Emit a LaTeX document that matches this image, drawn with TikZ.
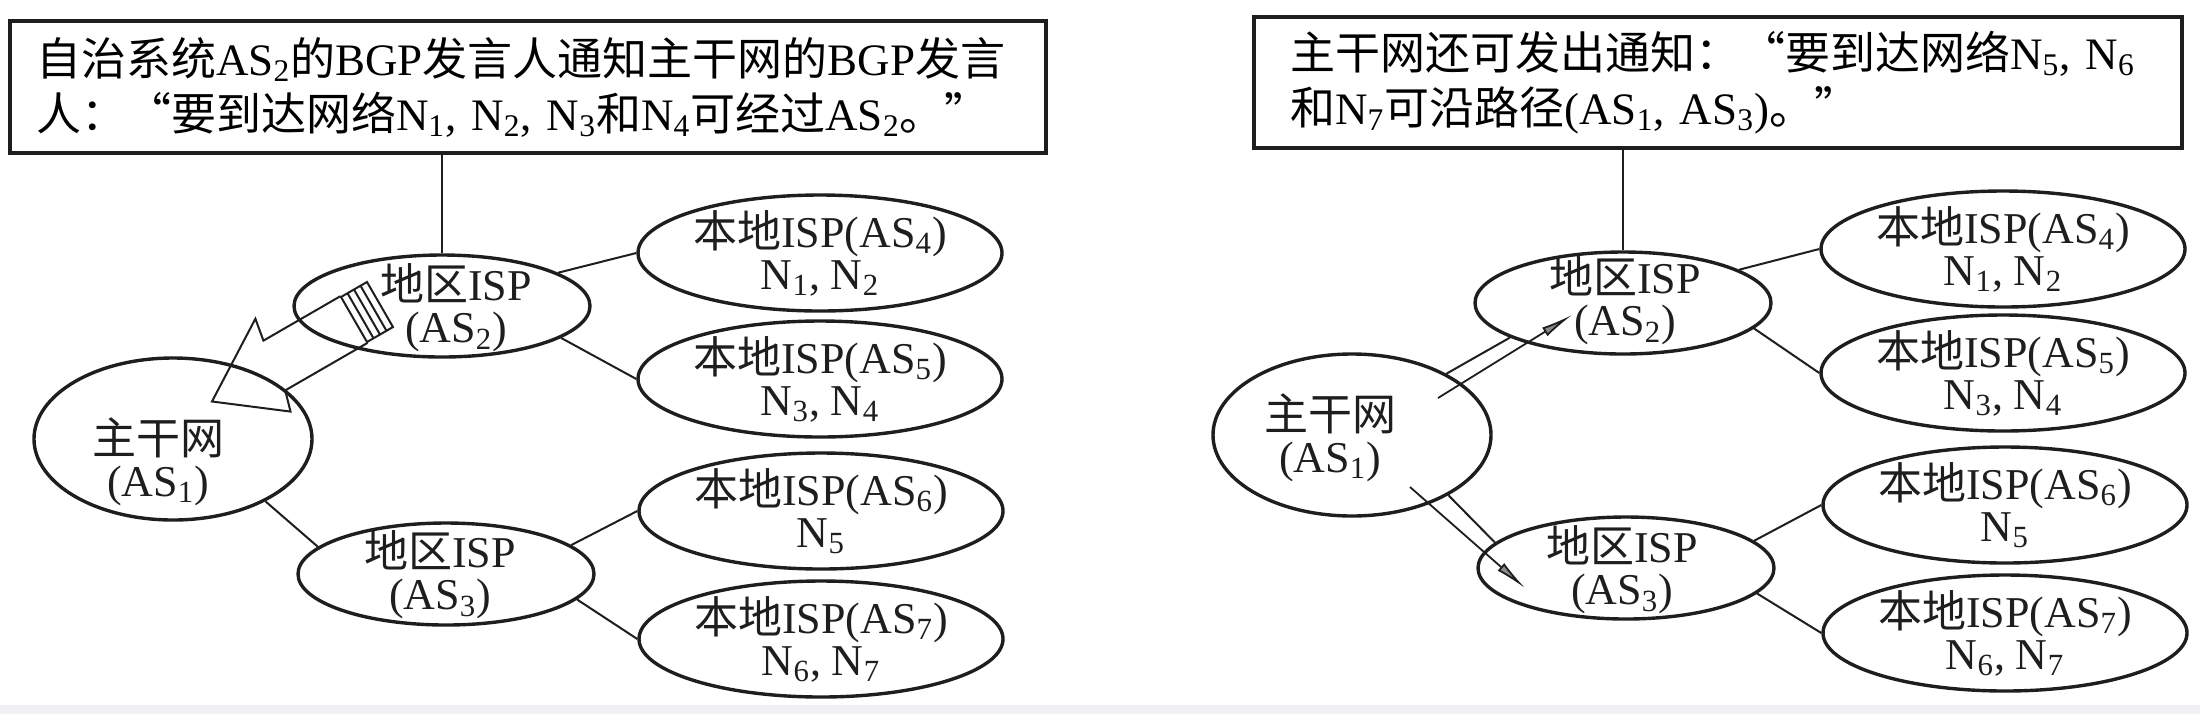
\documentclass[tikz,border=0pt]{standalone}
\usepackage{fontspec}
\setmainfont{Liberation Serif}
\newfontfamily\cjk{Noto Sans CJK SC}
\usetikzlibrary{shapes.geometric,arrows.meta}
\newcommand{\zh}[1]{{\cjk #1}}
\newcommand{\subn}[1]{\textsubscript{#1}}
\definecolor{InkDark}{HTML}{1E1E1E}
\definecolor{ArrowGray}{HTML}{8A8A8A}
\definecolor{PageEdge}{HTML}{F1F1F3}

\begin{document}
\begin{tikzpicture}[
	x=0.5pt, y=-0.5pt, % one unit = one pixel of the picture, y runs down
	% Style for the two caption boxes
	note/.style={
		rectangle,
		draw=InkDark,
		line width=1.8pt,
		align=left,
		inner ysep=0pt,
		font=\fontsize{22.5}{27.5}\selectfont
	},
	% Styles for the three kinds of autonomous systems
	core/.style={
		ellipse,
		draw=InkDark,
		line width=1.7pt,
		inner sep=0pt,
		minimum width=139pt,
		minimum height=81pt
	},
	reg/.style={
		ellipse,
		draw=InkDark,
		line width=1.7pt,
		inner sep=0pt,
		minimum width=148pt,
		minimum height=51pt
	},
	lan/.style={
		ellipse,
		draw=InkDark,
		line width=1.7pt,
		inner sep=0pt,
		minimum width=182pt,
		minimum height=58pt
	},
	% Text inside the ellipses
	txt/.style={
		align=center,
		inner sep=0pt,
		text=InkDark,
		font=\fontsize{22}{21}\selectfont
	},
	% Plain links between the systems
	link/.style={
		draw=InkDark,
		line width=1pt
	},
	% Outline of the big update arrow
	fat/.style={
		draw=InkDark,
		line width=1pt,
		line join=miter
	},
	% Thin advertisement arrows
	adv/.style={
		draw=InkDark,
		line width=0.9pt,
		-{Latex[length=16pt,width=5pt,fill=ArrowGray]}
	}
	]
	
	\useasboundingbox (0,0) rectangle (2200,714);
	\fill[PageEdge] (0,705) rectangle (2200,714);
	
	% 1. Left half: AS2 tells the backbone
	\node[note, text width=492pt, inner xsep=13pt, minimum height=66pt] (lnote) at (528,87)
		{\zh{自治系统}AS\subn{2}\zh{的}BGP\zh{发言人通知主干网的}BGP\zh{发言}\\
		 \zh{人：“要到达网络}N\subn{1},~N\subn{2},~N\subn{3}\zh{和}N\subn{4}\zh{可经过}AS\subn{2}\zh{。”}};
	
	\node[core] (lAS1) at (173,439) {};
	\node[txt] (lAS1t) at (158,462) {\zh{主干网}\\(AS\subn{1})};
	\node[reg] (lAS2) at (442,306) {};
	\node[txt] (lAS2t) at (456,308) {\zh{地区}ISP\\(AS\subn{2})};
	\node[reg] (lAS3) at (446,574) {};
	\node[txt] (lAS3t) at (440,575) {\zh{地区}ISP\\(AS\subn{3})};
	\node[lan] (lAS4) at (820,253) {};
	\node[txt] (lAS4t) at (lAS4) {\zh{本地}ISP(AS\subn{4})\\N\subn{1},~N\subn{2}};
	\node[lan] (lAS5) at (820,379) {};
	\node[txt] (lAS5t) at (lAS5) {\zh{本地}ISP(AS\subn{5})\\N\subn{3},~N\subn{4}};
	\node[lan] (lAS6) at (821,511) {};
	\node[txt] (lAS6t) at (lAS6) {\zh{本地}ISP(AS\subn{6})\\N\subn{5}};
	\node[lan] (lAS7) at (821,639) {};
	\node[txt] (lAS7t) at (lAS7) {\zh{本地}ISP(AS\subn{7})\\N\subn{6},~N\subn{7}};
	
	\draw[link] (lnote.south -| lAS2.north) -- (lAS2.north);
	\draw[link] (lAS2.16) -- (lAS4.west);
	\draw[link] (lAS2.-15) -- (lAS5.west);
	\draw[link] (lAS3.13) -- (lAS6.west);
	\draw[link] (lAS3.-11) -- (lAS7.west);
	\draw[link] (lAS1.-34) -- (lAS3.168);
	
	% the update leaves AS2 as a striped packet with a hollow head
	\coordinate (pkt) at (367,312);
	\begin{scope}[shift={(pkt)}, rotate=210]
		\draw[fat] (15,-27) -- (110,-27) -- (116,-48) -- (179,0) -- (100,50) -- (104,27) -- (15,27);
		\draw[fat] (-15,-26) rectangle (15,26);
		\foreach \s in {-7.5,0,7.5}
			\draw[fat] (\s,-26) -- (\s,26);
	\end{scope}
	
	% 2. Right half: the backbone passes the path on
	\node[note, text width=428pt, inner xsep=18pt, minimum height=65.5pt] (rnote) at (1718,82.5)
		{\zh{主干网还可发出通知：“要到达网络}N\subn{5},~N\subn{6}\\
		 \zh{和}N\subn{7}\zh{可沿路径}(AS\subn{1},~AS\subn{3})\zh{。”}};
	
	\node[core] (rAS1) at (1352,435) {};
	\node[txt] (rAS1t) at (1330,438) {\zh{主干网}\\(AS\subn{1})};
	\node[reg] (rAS2) at (1623,303) {};
	\node[txt] (rAS2t) at (1625,301) {\zh{地区}ISP\\(AS\subn{2})};
	\node[reg] (rAS3) at (1626,568) {};
	\node[txt] (rAS3t) at (1622,570) {\zh{地区}ISP\\(AS\subn{3})};
	\node[lan] (rAS4) at (2003,249) {};
	\node[txt] (rAS4t) at (rAS4) {\zh{本地}ISP(AS\subn{4})\\N\subn{1},~N\subn{2}};
	\node[lan] (rAS5) at (2003,373) {};
	\node[txt] (rAS5t) at (rAS5) {\zh{本地}ISP(AS\subn{5})\\N\subn{3},~N\subn{4}};
	\node[lan] (rAS6) at (2005,505) {};
	\node[txt] (rAS6t) at (rAS6) {\zh{本地}ISP(AS\subn{6})\\N\subn{5}};
	\node[lan] (rAS7) at (2005,633) {};
	\node[txt] (rAS7t) at (rAS7) {\zh{本地}ISP(AS\subn{7})\\N\subn{6},~N\subn{7}};
	
	\draw[link] (rnote.south -| rAS2.north) -- (rAS2.north);
	\draw[link] (rAS2.16) -- (rAS4.west);
	\draw[link] (rAS2.-11) -- (rAS5.west);
	\draw[link] (rAS3.12) -- (rAS6.west);
	\draw[link] (rAS3.-11) -- (rAS7.west);
	\draw[link] (rAS1.33) -- (rAS2.197);
	\draw[link] (rAS1.-32) -- (rAS3.169);
	
	\coordinate (s12) at (1438,398);
	\coordinate (e12) at (1572,315);
	\coordinate (s13) at (1410,487);
	\coordinate (e13) at (1525,588);
	\draw[adv] (s12) -- (e12);
	\draw[adv] (s13) -- (e13);
	
\end{tikzpicture}
\end{document}
